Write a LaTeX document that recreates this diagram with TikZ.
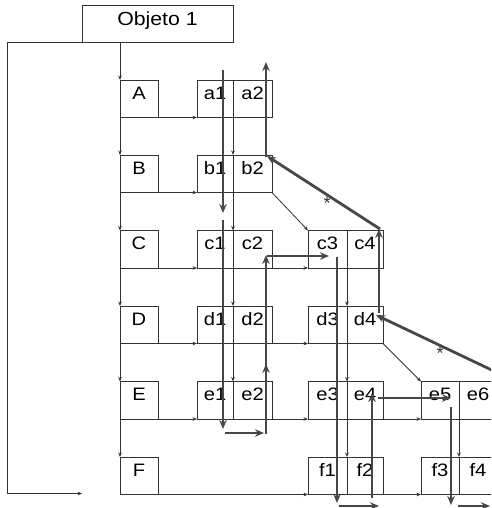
\documentclass[tikz,border=0pt]{standalone}
\usepackage{fontspec}
\setmainfont{Liberation Sans}
\usepackage{graphicx}
\usetikzlibrary{arrows.meta}
\newcommand\wtxt[1]{\scalebox{1.12}[1]{#1}}
\begin{document}
\begin{tikzpicture}[x=1pt,y=-1pt,
  ln/.style={draw=black!80, line width=0.8pt},
  arr/.style={ln, -{Stealth[length=4.5pt,width=3.6pt]}},
  thk/.style={draw=black!72, line width=2.8pt, -{Stealth[length=9pt,width=7.5pt]}},
  cbox/.style={ln, rectangle, inner sep=0pt, outer sep=0pt, minimum width=#1, minimum height=37.5pt,
    text height=19.3pt, text depth=18.2pt, anchor=north west, font=\fontsize{18}{20}\selectfont},
  objbox/.style={ln, rectangle, inner sep=0pt, outer sep=0pt, minimum width=151pt, minimum height=37pt,
    text height=20.7pt, text depth=16.3pt, anchor=north west, font=\fontsize{19}{21}\selectfont},
  starlbl/.style={inner sep=0pt, font=\fontsize{18}{18}\selectfont, text=black!80}
]
\clip (0,0) rectangle (491,508);
\fill[white] (0,0) rectangle (491,508);

% title box
\node[objbox] (obj) at (82,5) {\wtxt{Objeto 1}};

% letter boxes
\node[cbox=38pt] (A) at (120,80)    {\wtxt{A}};
\node[cbox=38pt] (B) at (120,155)   {\wtxt{B}};
\node[cbox=38pt] (C) at (120,230.5) {\wtxt{C}};
\node[cbox=38pt] (D) at (120,306)   {\wtxt{D}};
\node[cbox=38pt] (E) at (120,381.5) {\wtxt{E}};
\node[cbox=38pt] (F) at (120,457)   {\wtxt{F}};

% group 1 cells
\node[cbox=36pt] (a1) at (197,80)    {\wtxt{a1}};
\node[cbox=39pt] (a2) at (233,80)    {\wtxt{a2}};
\node[cbox=36pt] (b1) at (197,155)   {\wtxt{b1}};
\node[cbox=39pt] (b2) at (233,155)   {\wtxt{b2}};
\node[cbox=36pt] (c1) at (197,230.5) {\wtxt{c1}};
\node[cbox=39pt] (c2) at (233,230.5) {\wtxt{c2}};
\node[cbox=36pt] (d1) at (197,306)   {\wtxt{d1}};
\node[cbox=39pt] (d2) at (233,306)   {\wtxt{d2}};
\node[cbox=36pt] (e1) at (197,381.5) {\wtxt{e1}};
\node[cbox=39pt] (e2) at (233,381.5) {\wtxt{e2}};

% group 2 cells
\node[cbox=39pt] (c3) at (308,230.5) {\wtxt{c3}};
\node[cbox=36pt] (c4) at (347,230.5) {\wtxt{c4}};
\node[cbox=39pt] (d3) at (308,306)   {\wtxt{d3}};
\node[cbox=36pt] (d4) at (347,306)   {\wtxt{d4}};
\node[cbox=39pt] (e3) at (308,381.5) {\wtxt{e3}};
\node[cbox=36pt] (e4) at (347,381.5) {\wtxt{e4}};
\node[cbox=39pt] (f1) at (308,457)   {\wtxt{f1}};
\node[cbox=36pt] (f2) at (347,457)   {\wtxt{f2}};

% group 3 cells
\node[cbox=38pt] (e5) at (421,381.5) {\wtxt{e5}};
\node[cbox=38pt] (e6) at (459,381.5) {\wtxt{e6}};
\node[cbox=38pt] (f3) at (421,457)   {\wtxt{f3}};
\node[cbox=38pt] (f4) at (459,457)   {\wtxt{f4}};

% outer loop line
\coordinate (oc) at (7,493.5);
\coordinate (oe) at (82,493.5);
\draw[arr] (obj.south west) -| (oc) -- (oe);

% main vertical
\draw[arr] (A.west |- obj.south) -- (A.north west);
\draw[arr] (A.north west) -- (B.north west);
\draw[arr] (B.north west) -- (C.north west);
\draw[arr] (C.north west) -- (D.north west);
\draw[arr] (D.north west) -- (E.north west);
\draw[arr] (E.north west) -- (F.north west);

% row lines
\draw[arr] (A.south west) -- (a1.south west);
\draw[arr] (B.south west) -- (b1.south west);
\draw[arr] (C.south west) -- (c1.south west);
\draw[arr] (D.south west) -- (d1.south west);
\draw[arr] (E.south west) -- (e1.south west);
\draw[arr] (F.south west) -- (f1.south west);
\draw[arr] (c2.south east) -- (c3.south west);
\draw[arr] (d2.south east) -- (d3.south west);
\draw[arr] (e2.south east) -- (e3.south west);
\draw[arr] (e4.south east) -- (e5.south west);
\draw[arr] (f2.south east) -- (f3.south west);

% column dividers
\draw[arr] (a1.north east) -- (b1.north east);
\draw[arr] (b1.north east) -- (c1.north east);
\draw[arr] (c1.north east) -- (d1.north east);
\draw[arr] (d1.north east) -- (e1.north east);
\draw[arr] (c3.north east) -- (d3.north east);
\draw[arr] (d3.north east) -- (e3.north east);
\draw[arr] (e3.north east) -- (f1.north east);
\draw[arr] (e5.north east) -- (f3.north east);

% thin diagonals
\draw[arr] (b2.south east) -- (c3.north west);
\draw[arr] (d4.south east) -- (e5.north west);

% thick traversal path
\coordinate (t1s) at (223,70);   \coordinate (t1e) at (223,213);
\coordinate (t2s) at (223,220);  \coordinate (t2e) at (223,429);
\coordinate (t3s) at (225,433);  \coordinate (t3e) at (264,433);
\coordinate (t4s) at (266,434);  \coordinate (t4e) at (266,364);
\coordinate (t5s) at (266,368);  \coordinate (t5e) at (266,255);
\coordinate (t6s) at (267,256);  \coordinate (t6e) at (329,256);
\coordinate (t7s) at (337,257);  \coordinate (t7e) at (337,503);
\coordinate (t8s) at (339,506);  \coordinate (t8e) at (379,506);
\coordinate (t9s) at (372,498);  \coordinate (t9e) at (372,393);
\coordinate (t10s) at (378,398); \coordinate (t10e) at (451,398);
\coordinate (t11s) at (451,407); \coordinate (t11e) at (451,505);
\coordinate (t12s) at (458,506); \coordinate (t12e) at (490,506);
\coordinate (t13s) at (379,313); \coordinate (t13e) at (379,229);
\coordinate (t14s) at (380,229); \coordinate (t14e) at (267,156);
\coordinate (t15s) at (266,157); \coordinate (t15e) at (266,62);
\coordinate (t16s) at (498,373); \coordinate (t16e) at (376,315);

\draw[thk] (t1s) -- (t1e);
\draw[thk] (t2s) -- (t2e);
\draw[thk] (t3s) -- (t3e);
\draw[thk] (t4s) -- (t4e);
\draw[thk] (t5s) -- (t5e);
\draw[thk] (t6s) -- (t6e);
\draw[thk] (t7s) -- (t7e);
\draw[thk] (t8s) -- (t8e);
\draw[thk] (t9s) -- (t9e);
\draw[thk] (t10s) -- (t10e);
\draw[thk] (t11s) -- (t11e);
\draw[thk] (t12s) -- (t12e);
\draw[thk] (t13s) -- (t13e);
\draw[thk] (t14s) -- (t14e);
\draw[thk] (t15s) -- (t15e);
\draw[thk] (t16s) -- (t16e);

% stars
\node[starlbl] (s1) at (327,203) {*};
\node[starlbl] (s2) at (440,353) {*};
\end{tikzpicture}
\end{document}
